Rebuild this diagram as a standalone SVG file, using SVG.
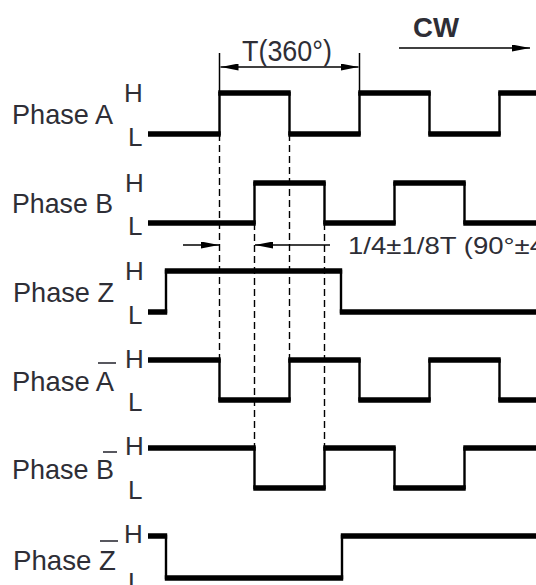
<svg xmlns="http://www.w3.org/2000/svg" width="536" height="585" viewBox="0 0 536 585">
<style>
text{font-family:"Liberation Sans",Arial,sans-serif;fill:#2e2e36}
.lbl{font-size:28px}
.hl{font-size:26px}
.lvl{fill:none;stroke:#000;stroke-width:5.5}
.edge{fill:none;stroke:#000;stroke-width:2.4}
.dash{stroke:#000;stroke-width:1.4;stroke-dasharray:7 4}
.dim{stroke:#000;stroke-width:1.5;fill:none}
.bar{stroke:#2e2e36;stroke-width:1.6}
</style>
<defs>
<marker id="ah" viewBox="0 0 18 7" refX="18" refY="3.5" markerWidth="18" markerHeight="7" markerUnits="userSpaceOnUse" orient="auto-start-reverse">
<path d="M0,0 L18,3.5 L0,7 z" fill="#000"/>
</marker>
</defs>
<rect width="536" height="585" fill="#fff"/>

<g id="connectors">
<line class="dash" x1="219.5" y1="134" x2="219.5" y2="360"/>
<line class="dash" x1="289.5" y1="134" x2="289.5" y2="360"/>
<line class="dash" x1="254.5" y1="223" x2="254.5" y2="448"/>
<line class="dash" x1="324.5" y1="223" x2="324.5" y2="448"/>
<line class="dim" x1="219.5" y1="53" x2="219.5" y2="93"/>
<line class="dim" x1="359.5" y1="53" x2="359.5" y2="93"/>
<line class="dim" x1="220.5" y1="67" x2="358.5" y2="67" marker-start="url(#ah)" marker-end="url(#ah)"/>
<line class="dim" x1="183" y1="245" x2="219" y2="245" marker-end="url(#ah)"/>
<line class="dim" x1="330" y1="245" x2="255" y2="245" marker-end="url(#ah)"/>
<line class="dim" x1="399" y1="48" x2="530" y2="48" marker-end="url(#ah)"/>
</g>

<g id="dim-label">
<text x="242" y="61" font-size="29" textLength="90" lengthAdjust="spacingAndGlyphs">T(360°)</text>
</g>
<g id="cw-label">
<text x="413" y="37" font-size="27" font-weight="bold" textLength="46" lengthAdjust="spacingAndGlyphs">CW</text>
</g>
<g id="phase-diff-label">
<text x="348" y="254" font-size="24" textLength="197" lengthAdjust="spacingAndGlyphs">1/4±1/8T (90°±4</text>
</g>

<g id="phase-a">
<text class="lbl" x="12" y="124" textLength="101" lengthAdjust="spacingAndGlyphs">Phase A</text>
<text class="hl" x="124" y="102">H</text>
<text class="hl" x="128" y="146">L</text>
<path class="lvl" d="M148 134H220.7M218.3 93H290.7M288.3 134H360.7M358.3 93H430.7M428.3 134H500.7M498.3 93H540"/>
<path class="edge" d="M148 134H219.5V93H289.5V134H359.5V93H429.5V134H499.5V93H540"/>
</g>

<g id="phase-b">
<text class="lbl" x="12" y="213" textLength="101" lengthAdjust="spacingAndGlyphs">Phase B</text>
<text class="hl" x="125" y="192">H</text>
<text class="hl" x="128" y="235">L</text>
<path class="lvl" d="M148 223H255.7M253.3 183H325.7M323.3 223H395.7M393.3 183H465.7M463.3 223H540"/>
<path class="edge" d="M148 223H254.5V183H324.5V223H394.5V183H464.5V223H540"/>
</g>

<g id="phase-z">
<text class="lbl" x="13" y="302" textLength="101" lengthAdjust="spacingAndGlyphs">Phase Z</text>
<text class="hl" x="125" y="280">H</text>
<text class="hl" x="128" y="324">L</text>
<path class="lvl" d="M148 312H167.2M164.8 271H342.2M339.8 312H540"/>
<path class="edge" d="M148 312H166V271H341V312H540"/>
</g>

<g id="phase-a-bar">
<text class="lbl" x="12" y="391" textLength="102" lengthAdjust="spacingAndGlyphs">Phase A</text>
<line class="bar" x1="98" y1="363" x2="116" y2="363"/>
<text class="hl" x="125" y="368">H</text>
<text class="hl" x="128" y="411">L</text>
<path class="lvl" d="M148 360H220.7M218.3 400H290.7M288.3 360H360.7M358.3 400H430.7M428.3 360H500.7M498.3 400H540"/>
<path class="edge" d="M148 360H219.5V400H289.5V360H359.5V400H429.5V360H499.5V400H540"/>
</g>

<g id="phase-b-bar">
<text class="lbl" x="12" y="479" textLength="102" lengthAdjust="spacingAndGlyphs">Phase B</text>
<line class="bar" x1="103" y1="452" x2="117" y2="452"/>
<text class="hl" x="125" y="455">H</text>
<text class="hl" x="128" y="499">L</text>
<path class="lvl" d="M148 448H255.7M253.3 488H325.7M323.3 448H395.7M393.3 488H465.7M463.3 448H540"/>
<path class="edge" d="M148 448H254.5V488H324.5V448H394.5V488H464.5V448H540"/>
</g>

<g id="phase-z-bar">
<text class="lbl" x="13" y="570" textLength="103" lengthAdjust="spacingAndGlyphs">Phase Z</text>
<line class="bar" x1="100" y1="541" x2="118" y2="541"/>
<text class="hl" x="124" y="543">H</text>
<text class="hl" x="128" y="591">L</text>
<path class="lvl" d="M148 536H167.2M164.8 578H343.2M340.8 536H540"/>
<path class="edge" d="M148 536H166V578H342V536H540"/>
</g>
</svg>
